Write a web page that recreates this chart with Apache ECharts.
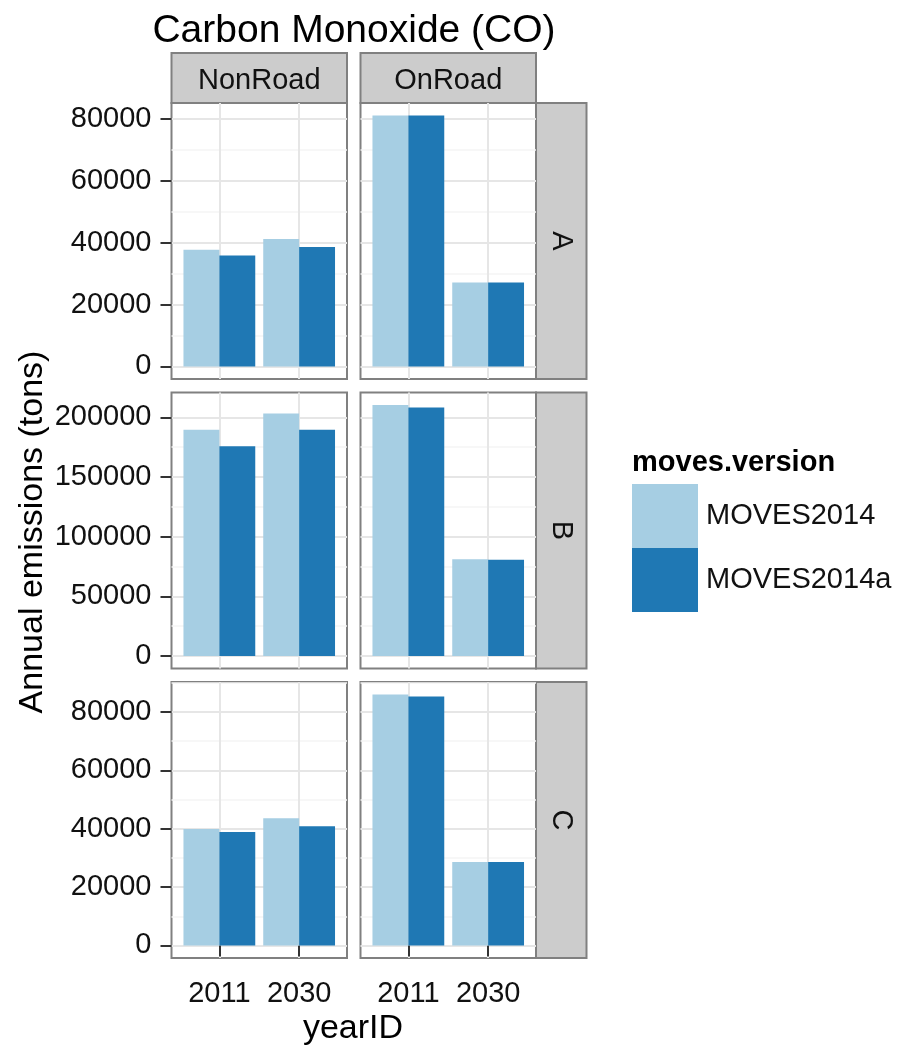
<!DOCTYPE html>
<html>
<head>
<meta charset="utf-8">
<title>Carbon Monoxide (CO)</title>
<script src="https://cdn.jsdelivr.net/npm/echarts@6/dist/echarts.min.js"></script>
<style>
  html, body { margin: 0; padding: 0; background: #ffffff; }
  #chart { width: 903px; height: 1053px; }
</style>
</head>
<body>
<div id="chart"></div>
<script>
// Categories
const years = ['2011', '2030'];
const sources = ['NonRoad', 'OnRoad'];
const regions = ['A', 'B', 'C'];
const versions = ['MOVES2014', 'MOVES2014a'];

// Annual CO emissions (tons), one value per year
const nonRoadA2014  = [37700, 41200];
const nonRoadA2014a = [35900, 38600];
const onRoadA2014   = [81100, 27100];
const onRoadA2014a  = [81100, 27100];

const nonRoadB2014  = [189500, 203300];
const nonRoadB2014a = [175700, 189500];
const onRoadB2014   = [210300, 81100];
const onRoadB2014a  = [208300, 80700];

const nonRoadC2014  = [39900, 43600];
const nonRoadC2014a = [38900, 40900];
const onRoadC2014   = [86000, 28600];
const onRoadC2014a  = [85300, 28600];

// Major tick step of the y scale in each region row
const rowTickSteps = [20000, 50000, 20000];

// panels[row][col] = [MOVES2014 values, MOVES2014a values]
const panels = [
  [[nonRoadA2014, nonRoadA2014a], [onRoadA2014, onRoadA2014a]],
  [[nonRoadB2014, nonRoadB2014a], [onRoadB2014, onRoadB2014a]],
  [[nonRoadC2014, nonRoadC2014a], [onRoadC2014, onRoadC2014a]]
];

// Styling and layout
const FONT = '"Liberation Sans", Arial, sans-serif';
const TEXT = '#111111';
const LABEL_SIZE = 29;
const colors = ['#A6CEE3', '#1F78B4'];
const borderColor = '#808080';
const stripFill = '#cccccc';
const majorGrid = '#e6e6e6';
const minorGrid = '#f4f4f4';

const colLeft = [171.5, 360.5];
const colW = 175.5;
const rowTop = [103, 392.5, 682];
const rowH = 276;
const stripH = 50;
const stripW = 50.5;

const grid = [], xAxis = [], yAxis = [], series = [], graphic = [];

// free y scale per row, padded 5% on both ends
function rowScale(r) {
  const rowMax = Math.max(...panels[r].flat(2));
  const step = rowTickSteps[r];
  const lo = -0.05 * rowMax;
  const hi = 1.05 * rowMax;
  const majors = [];
  for (let v = 0; v <= hi; v += step) majors.push(v);
  const minors = [];
  for (let v = step / 2; v <= hi; v += step) minors.push(v);
  return { lo, hi, majors, minors };
}

regions.forEach((reg, r) => {
  const { lo, hi, majors } = rowScale(r);

  sources.forEach((src, c) => {
    const p = grid.length;
    grid.push({
      left: colLeft[c], top: rowTop[r], width: colW, height: rowH,
      show: true, backgroundColor: '#ffffff',
      borderColor: borderColor, borderWidth: 2,
      containLabel: false, outerBoundsMode: 'none'
    });

    const bottomRow = r === regions.length - 1;
    xAxis.push({
      type: 'value', gridIndex: p, min: 0.4, max: 2.6,
      axisLine: { show: false },
      axisTick: {
        show: bottomRow, customValues: [1, 2], length: 11,
        lineStyle: { color: '#333333', width: 2 }
      },
      axisLabel: {
        show: bottomRow, customValues: [1, 2], margin: 21,
        formatter: v => years[Math.round(v) - 1],
        fontSize: LABEL_SIZE, color: TEXT, fontFamily: FONT
      },
      splitLine: { show: true, lineStyle: { color: majorGrid, width: 2 } }
    });

    const leftCol = c === 0;
    yAxis.push({
      type: 'value', gridIndex: p, min: lo, max: hi,
      axisLine: { show: false },
      axisTick: {
        show: leftCol, customValues: majors, length: 11,
        lineStyle: { color: '#333333', width: 2 }
      },
      axisLabel: {
        show: leftCol, customValues: majors, margin: 20,
        formatter: v => String(v),
        fontSize: LABEL_SIZE, color: TEXT, fontFamily: FONT
      },
      splitLine: { show: true, lineStyle: { color: majorGrid, width: 2 } }
    });

    versions.forEach((ver, k) => {
      series.push({
        type: 'bar', name: ver,
        xAxisIndex: p, yAxisIndex: p,
        data: panels[r][c][k].map((y, i) => [i + 1, y]),
        barGap: '0%', barCategoryGap: '10%',
        itemStyle: { color: colors[k] },
        silent: true, animation: false
      });
    });
  });
});

// Minor horizontal grid lines: hidden companion y axes on every panel
regions.forEach((reg, r) => {
  const { lo, hi, minors } = rowScale(r);
  sources.forEach((src, c) => {
    yAxis.push({
      type: 'value', gridIndex: r * sources.length + c, min: lo, max: hi,
      position: 'left',
      axisLine: { show: false },
      axisTick: { show: false, customValues: minors },
      axisLabel: { show: false },
      splitLine: { show: true, lineStyle: { color: minorGrid, width: 1.5 } }
    });
  });
});

// Facet strips: source names on top, region names on the right
sources.forEach((src, c) => {
  graphic.push({
    type: 'rect',
    shape: { x: colLeft[c], y: rowTop[0] - stripH, width: colW, height: stripH },
    style: { fill: stripFill, stroke: borderColor, lineWidth: 2 }
  });
  graphic.push({
    type: 'text', x: colLeft[c] + colW / 2, y: rowTop[0] - stripH / 2 + 3,
    style: { text: src, fontSize: LABEL_SIZE, fontFamily: FONT, fill: TEXT, align: 'center', verticalAlign: 'middle' }
  });
});
regions.forEach((reg, r) => {
  const sx = colLeft[1] + colW;
  graphic.push({
    type: 'rect',
    shape: { x: sx, y: rowTop[r], width: stripW, height: rowH },
    style: { fill: stripFill, stroke: borderColor, lineWidth: 2 }
  });
  graphic.push({
    type: 'text', x: sx + stripW / 2, y: rowTop[r] + rowH / 2,
    rotation: -Math.PI / 2,
    style: { text: reg, fontSize: LABEL_SIZE, fontFamily: FONT, fill: TEXT, align: 'center', verticalAlign: 'middle' }
  });
});

// Titles
graphic.push({
  type: 'text', x: 354, y: 31,
  style: { text: 'Carbon Monoxide (CO)', fontSize: 39, fontFamily: FONT, fill: '#000000', align: 'center', verticalAlign: 'middle' }
});
graphic.push({
  type: 'text', x: 353, y: 1029,
  style: { text: 'yearID', fontSize: 34, fontFamily: FONT, fill: '#000000', align: 'center', verticalAlign: 'middle' }
});
graphic.push({
  type: 'text', x: 33, y: 532, rotation: Math.PI / 2,
  style: { text: 'Annual emissions (tons)', fontSize: 34, fontFamily: FONT, fill: '#000000', align: 'center', verticalAlign: 'middle' }
});
graphic.push({
  type: 'text', x: 632, y: 463,
  style: { text: 'moves.version', fontSize: LABEL_SIZE, fontWeight: 'bold', fontFamily: FONT, fill: '#000000', align: 'left', verticalAlign: 'middle' }
});

const chart = echarts.init(document.getElementById('chart'), null, { renderer: 'canvas' });
chart.setOption({
  backgroundColor: '#ffffff',
  animation: false,
  textStyle: { fontFamily: FONT },
  grid, xAxis, yAxis, series, graphic,
  legend: {
    data: versions,
    orient: 'vertical',
    left: 632, top: 484,
    padding: 0,
    itemWidth: 66, itemHeight: 64, itemGap: 0,
    icon: 'rect',
    selectedMode: false,
    textStyle: { fontSize: LABEL_SIZE, color: TEXT, fontFamily: FONT, padding: [12, 0, 0, 3] }
  }
});
</script>
</body>
</html>
